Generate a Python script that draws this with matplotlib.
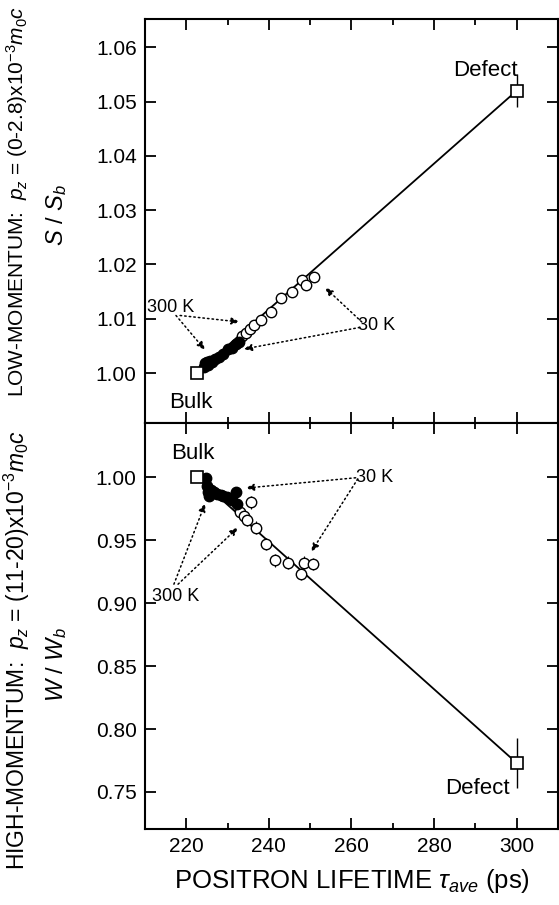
import matplotlib
matplotlib.use("Agg")
import matplotlib.pyplot as plt
from matplotlib.ticker import MultipleLocator, FormatStrFormatter

plt.rcParams['font.family'] = ['Liberation Sans', 'DejaVu Sans']
plt.rcParams['mathtext.fontset'] = 'custom'
plt.rcParams['mathtext.rm'] = 'Liberation Sans'
plt.rcParams['mathtext.it'] = 'Liberation Sans:italic'
plt.rcParams['mathtext.bf'] = 'Liberation Sans:bold'

# ---------------- data ----------------
tau_bulk = 222.5
tau_defect = 300.0

S_bulk = 1.000
S_defect = 1.052
S_defect_err = 0.003

W_bulk = 1.000
W_defect = 0.773
W_defect_err = 0.020

# low momentum, open circles
S_open_tau = [233.5, 234.5, 235.5, 236.5, 238.0, 240.5, 243.0, 245.5, 248.0, 249.0, 251.0]
S_open_val = [1.0068, 1.0073, 1.0082, 1.0088, 1.0097, 1.0112, 1.0138, 1.0150, 1.0172, 1.0163, 1.0176]
S_open_err = [0.0006] * 11
# low momentum, filled circles
S_fill_tau = [224.3, 224.6, 225.0, 225.3, 225.7, 226.2, 227.0, 228.0, 229.0, 230.0, 231.0, 232.0, 232.8]
S_fill_val = [1.0012, 1.0018, 1.0020, 1.0015, 1.0022, 1.0020, 1.0026, 1.0030, 1.0035, 1.0045, 1.0047, 1.0053, 1.0058]

# high momentum, open circles
W_open_tau = [233.0, 234.0, 234.8, 235.7, 236.9, 239.3, 241.5, 244.6, 247.8, 248.5, 250.7]
W_open_val = [0.972, 0.969, 0.966, 0.980, 0.960, 0.947, 0.934, 0.932, 0.923, 0.932, 0.931]
W_open_err = [0.005] * 11
# high momentum, filled circles
W_fill_tau = [224.8, 225.0, 225.3, 225.6, 226.0, 226.8, 227.5, 228.3, 229.0, 229.8, 230.5, 231.0, 232.0, 232.2]
W_fill_val = [0.9995, 0.993, 0.988, 0.985, 0.990, 0.988, 0.987, 0.986, 0.985, 0.984, 0.983, 0.982, 0.988, 0.979]
W_fill_err = [0.002] * 14

# ---------------- figure ----------------
fig = plt.figure(figsize=(5.59, 9.05), dpi=100)
L, R = 145 / 559, 558 / 559
ax1 = fig.add_axes([L, (905 - 423) / 905, R - L, 404 / 905])
ax2 = fig.add_axes([L, (905 - 829) / 905, R - L, 406 / 905])

for ax in (ax1, ax2):
    ax.set_xlim(210, 310)
    ax.xaxis.set_major_locator(MultipleLocator(20))
    ax.xaxis.set_minor_locator(MultipleLocator(10))
    ax.tick_params(which='both', direction='in', top=True, right=True, width=1.3,
                   labelsize=15, pad=6)
    ax.tick_params(which='major', length=8)
    ax.tick_params(which='minor', length=4)
    for sp in ax.spines.values():
        sp.set_linewidth(1.5)

# ---- top panel ----
ax1.set_ylim(0.9908, 1.0652)
ax1.yaxis.set_major_locator(MultipleLocator(0.01))
ax1.yaxis.set_major_formatter(FormatStrFormatter('%.2f'))
ax1.tick_params(axis='x', labelbottom=False)
ax1.plot([tau_bulk, tau_defect], [S_bulk, S_defect], color='black', lw=1.3, zorder=2)
ax1.errorbar(S_open_tau, S_open_val, yerr=S_open_err, fmt='o', ms=7.5, mfc='white',
             mec='black', mew=1.0, ecolor='black', elinewidth=0.8, zorder=3)
ax1.plot(S_fill_tau, S_fill_val, 'o', ms=7.5, color='black', zorder=4)
ax1.errorbar([tau_bulk], [S_bulk], fmt='s', ms=9, mfc='white', mec='black', mew=1.2, zorder=5)
ax1.errorbar([tau_defect], [S_defect], yerr=[S_defect_err], fmt='s', ms=9, mfc='white',
             mec='black', mew=1.2, ecolor='black', elinewidth=1.0, zorder=5)
ax1.text(221.2, 0.9946, 'Bulk', fontsize=16, ha='center', va='center')
ax1.text(292.5, 1.0558, 'Defect', fontsize=16, ha='center', va='center')

arrow_kw = dict(arrowstyle='-|>,head_length=0.5,head_width=0.2', color='black',
                lw=1.1, linestyle=(0, (1, 2)), shrinkA=0, shrinkB=0)
ax1.text(216.3, 1.0120, '300 K', fontsize=13, ha='center', va='center')
ax1.annotate('', xy=(224.6, 1.0042), xytext=(217.5, 1.0106), arrowprops=arrow_kw)
ax1.annotate('', xy=(233.0, 1.0094), xytext=(218.5, 1.0106), arrowprops=arrow_kw)
ax1.text(266.0, 1.0087, '30 K', fontsize=13, ha='center', va='center')
ax1.annotate('', xy=(233.8, 1.0044), xytext=(262.0, 1.0084), arrowprops=arrow_kw)
ax1.annotate('', xy=(253.5, 1.0158), xytext=(262.5, 1.0094), arrowprops=arrow_kw)

# ---- bottom panel ----
ax2.set_ylim(0.7206, 1.043)
ax2.yaxis.set_major_locator(MultipleLocator(0.05))
ax2.yaxis.set_major_formatter(FormatStrFormatter('%.2f'))
ax2.plot([tau_bulk, tau_defect], [W_bulk, W_defect], color='black', lw=1.3, zorder=2)
ax2.errorbar(W_open_tau, W_open_val, yerr=W_open_err, fmt='o', ms=7.5, mfc='white',
             mec='black', mew=1.0, ecolor='black', elinewidth=0.8, zorder=3)
ax2.errorbar(W_fill_tau, W_fill_val, yerr=W_fill_err, fmt='o', ms=7.5, mfc='black',
             mec='black', ecolor='black', elinewidth=0.8, zorder=4)
ax2.errorbar([tau_bulk], [W_bulk], fmt='s', ms=9, mfc='white', mec='black', mew=1.2, zorder=5)
ax2.errorbar([tau_defect], [W_defect], yerr=[W_defect_err], fmt='s', ms=9, mfc='white',
             mec='black', mew=1.2, ecolor='black', elinewidth=1.0, zorder=5)
ax2.text(221.5, 1.019, 'Bulk', fontsize=16, ha='center', va='center')
ax2.text(290.5, 0.753, 'Defect', fontsize=16, ha='center', va='center')

ax2.text(265.5, 1.000, '30 K', fontsize=13, ha='center', va='center')
ax2.annotate('', xy=(234.3, 0.9913), xytext=(261.0, 0.9995), arrowprops=arrow_kw)
ax2.annotate('', xy=(250.2, 0.9405), xytext=(261.5, 0.9985), arrowprops=arrow_kw)
ax2.text(217.5, 0.905, '300 K', fontsize=13, ha='center', va='center')
ax2.annotate('', xy=(224.6, 0.9794), xytext=(217.0, 0.915), arrowprops=arrow_kw)
ax2.annotate('', xy=(232.6, 0.9603), xytext=(218.0, 0.915), arrowprops=arrow_kw)

ax2.set_xlabel(r'POSITRON LIFETIME $\tau_{ave}$ (ps)', fontsize=18.5, labelpad=8)

# ---- y labels ----
fig.text(17 / 559, 1 - 201 / 905,
         r'LOW-MOMENTUM:  $p_z$ = (0-2.8)x10$^{-3}$$m_0c$',
         rotation=90, fontsize=15, ha='center', va='center')
fig.text(57 / 559, 1 - 215 / 905, r'$S$ / $S_b$',
         rotation=90, fontsize=17, ha='center', va='center')
fig.text(17 / 559, 1 - 650 / 905,
         r'HIGH-MOMENTUM:  $p_z$ = (11-20)x10$^{-3}$$m_0c$',
         rotation=90, fontsize=16.5, ha='center', va='center')
fig.text(57 / 559, 1 - 665 / 905, r'$W$ / $W_b$',
         rotation=90, fontsize=17, ha='center', va='center')

fig.savefig('out.png', dpi=100)
